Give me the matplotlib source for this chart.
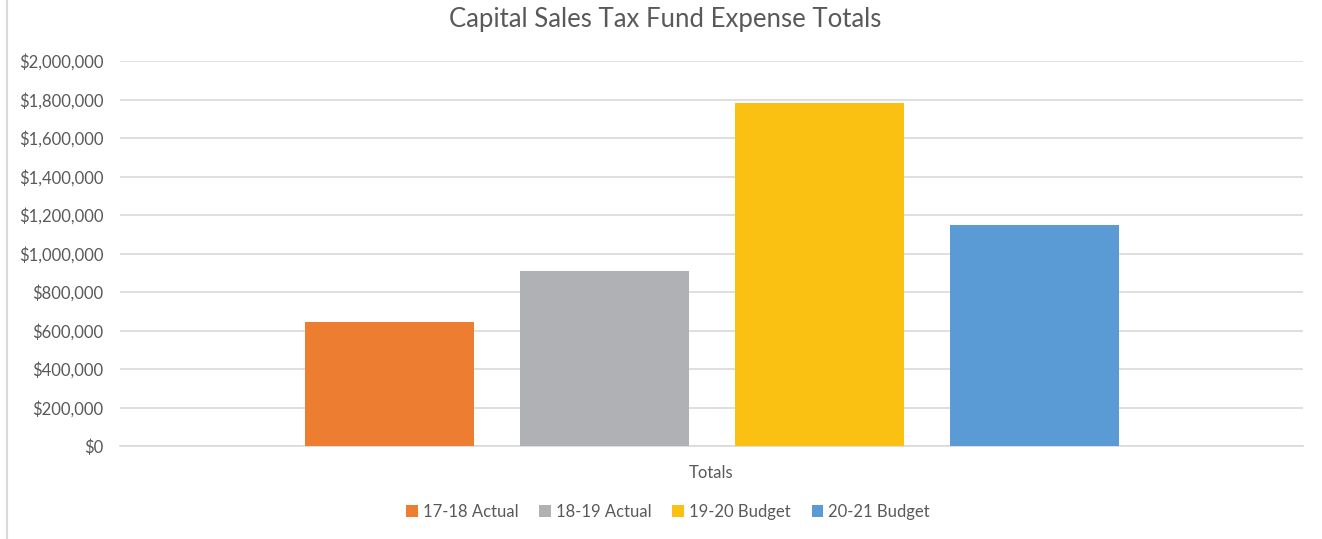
import matplotlib
matplotlib.use("Agg")
import matplotlib.pyplot as plt
from matplotlib.ticker import FuncFormatter, MultipleLocator
from matplotlib.patches import Patch
from matplotlib.lines import Line2D

plt.rcParams['font.family'] = ['Lato', 'DejaVu Sans']

title = "Capital Sales Tax Fund Expense Totals"
category = "Totals"
series_names = ["17-18 Actual", "18-19 Actual", "19-20 Budget", "20-21 Budget"]
series_values = [645000, 911000, 1782000, 1146000]
series_colors = ["#ED7D31", "#B0B1B4", "#FBC112", "#5B9BD5"]

W, H = 1322, 539
fig = plt.figure(figsize=(W / 100, H / 100), dpi=100)
ax = fig.add_axes([120 / W, 1 - 446 / H, (1303 - 120) / W, (446 - 61) / H])

bar_w = 169 / 1183
step = 215 / 1183
n = len(series_values)
for i, (name, val, col) in enumerate(zip(series_names, series_values, series_colors)):
    off = (i - (n - 1) / 2) * step
    ax.bar(off, val, width=bar_w, color=col, label=name, zorder=3)

ax.set_xlim(-0.5, 0.5)
ax.set_ylim(0, 2000000)
ax.yaxis.set_major_locator(MultipleLocator(200000))
ax.yaxis.set_major_formatter(FuncFormatter(lambda v, p: f"${v:,.0f}"))
ax.grid(axis='y', color='#D9D9D9', linewidth=1.2, zorder=0)
ax.set_xticks([0])
ax.set_xticklabels([category])
ax.tick_params(axis='x', length=0, pad=14, labelsize=12, labelcolor='#595959')
ax.tick_params(axis='y', length=0, pad=12, labelsize=12, labelcolor='#595959')
for s in ['top', 'right', 'left']:
    ax.spines[s].set_visible(False)
ax.spines['bottom'].set_color('#D9D9D9')
ax.spines['bottom'].set_linewidth(1.2)

fig.text(665 / W, 1 - 20 / H, title, ha='center', va='center', fontsize=18.5, color='#595959')

handles = [Patch(facecolor=c, edgecolor='none') for c in series_colors]
fig.legend(handles, series_names, loc='center', bbox_to_anchor=(668 / W, 1 - 512 / H), ncol=4,
           frameon=False, fontsize=12, labelcolor='#595959', handlelength=0.7, handleheight=0.7,
           handletextpad=0.3, columnspacing=1.25)

fig.add_artist(Line2D([6.5 / W, 6.5 / W], [0, 1], color='#D9D9D9', linewidth=1.5, transform=fig.transFigure))

fig.savefig("out.png", dpi=100, facecolor='white')
